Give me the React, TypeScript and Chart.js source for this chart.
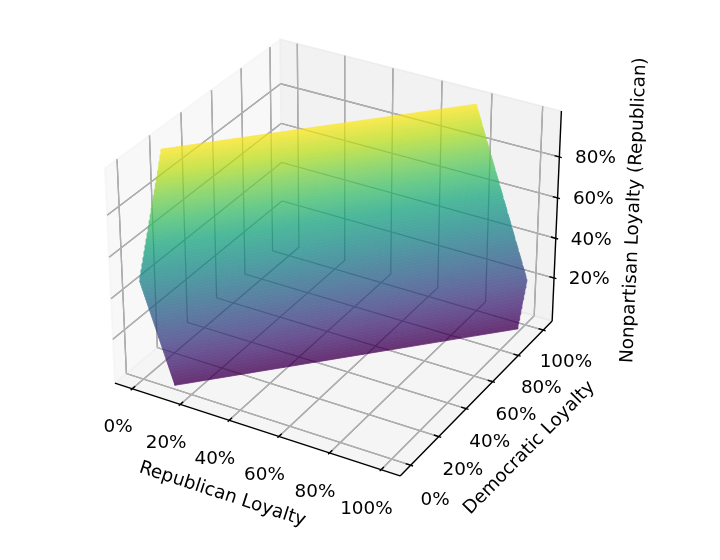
import React, { useEffect, useRef } from "react";
import { Chart, registerables } from "chart.js";

Chart.register(...registerables);

// ---------------- data ----------------
const REPUBLICAN_LOYALTY = [0, 0.2, 0.4, 0.6, 0.8, 1.0];
const DEMOCRATIC_LOYALTY = [0, 0.2, 0.4, 0.6, 0.8, 1.0];
// Required nonpartisan loyalty; rows follow DEMOCRATIC_LOYALTY, columns REPUBLICAN_LOYALTY.
// Only the feasible part (0..1) of the surface is drawn.
const NONPARTISAN_LOYALTY = [
  [0.465, -0.241, -0.947, -1.654, -2.36, -3.066],
  [1.12, 0.414, -0.292, -0.998, -1.705, -2.411],
  [1.775, 1.069, 0.363, -0.343, -1.05, -1.756],
  [2.431, 1.724, 1.018, 0.312, -0.394, -1.101],
  [3.086, 2.38, 1.673, 0.967, 0.261, -0.445],
  [3.741, 3.035, 2.329, 1.623, 0.917, 0.21],
];
const FEASIBLE_RANGE = [0, 1];

const X_TICKS = [0, 0.2, 0.4, 0.6, 0.8, 1.0];
const X_TICK_LABELS = ["0%", "20%", "40%", "60%", "80%", "100%"];
const Y_TICKS = [0, 0.2, 0.4, 0.6, 0.8, 1.0];
const Y_TICK_LABELS = ["0%", "20%", "40%", "60%", "80%", "100%"];
const Z_TICKS = [0.2, 0.4, 0.6, 0.8];
const Z_TICK_LABELS = ["20%", "40%", "60%", "80%"];
const X_TITLE = "Republican Loyalty";
const Y_TITLE = "Democratic Loyalty";
const Z_TITLE = "Nonpartisan Loyalty (Republican)";

// ---------------- view / style ----------------
const ELEV = 30;
const AZIM = -60;
const DIST = 10;
const BOX = [8 / 7, 8 / 7, 6 / 7];
const X_LIM = [-0.0729, 1.0729];
const Y_LIM = [-0.0729, 1.0729];
const Z_LIM = [-0.02, 1.02];
const VIEW_X = [-0.11797, 0.13378];
const VIEW_Y = [-0.10923, 0.08657];
const BANDS = 80;
const SURFACE_ALPHA = 0.8;
const SURFACE_BG = 245;
const GRID_GRAY = 176;
const GRID_THROUGH = 24;
const FONT = '18.4px "DejaVu Sans", sans-serif';
const VIRIDIS = [
  [68, 1, 84], [72, 36, 117], [65, 68, 135], [53, 95, 141], [42, 120, 142],
  [33, 145, 140], [34, 168, 132], [68, 191, 112], [122, 209, 81], [189, 223, 38], [253, 231, 37],
];

type P3 = [number, number, number];

const D2R = Math.PI / 180;
const W = [
  Math.cos(ELEV * D2R) * Math.cos(AZIM * D2R),
  Math.cos(ELEV * D2R) * Math.sin(AZIM * D2R),
  Math.sin(ELEV * D2R),
];
const UN = Math.hypot(W[0], W[1]);
const U = [-W[1] / UN, W[0] / UN, 0];
const V = [
  W[1] * U[2] - W[2] * U[1],
  W[2] * U[0] - W[0] * U[2],
  W[0] * U[1] - W[1] * U[0],
];
const LIMS = [X_LIM, Y_LIM, Z_LIM];

function project(p: P3) {
  const q = [0, 1, 2].map(
    (i) => ((p[i] - LIMS[i][0]) / (LIMS[i][1] - LIMS[i][0])) * BOX[i] - BOX[i] / 2
  );
  const dot = (a: number[]) => a[0] * q[0] + a[1] * q[1] + a[2] * q[2];
  const den = DIST - dot(W);
  return { x: dot(U) / den, y: dot(V) / den, den };
}

const GAP = { x: NaN, y: NaN };
function toPath(polys: P3[][], close: boolean) {
  const data: { x: number; y: number }[] = [];
  polys.forEach((poly, i) => {
    if (i > 0) data.push(GAP);
    poly.forEach((p) => {
      const r = project(p);
      data.push({ x: r.x, y: r.y });
    });
    if (close) {
      const r = project(poly[0]);
      data.push({ x: r.x, y: r.y });
    }
  });
  return data;
}

function viridis(t: number) {
  const s = Math.max(0, Math.min(1, t)) * 10;
  const i = Math.min(9, Math.floor(s));
  const f = s - i;
  return VIRIDIS[i].map((c, k) => c + f * (VIRIDIS[i + 1][k] - c));
}

function clipHalf(poly: P3[], f: (p: P3) => number): P3[] {
  const out: P3[] = [];
  for (let i = 0; i < poly.length; i++) {
    const a = poly[i];
    const b = poly[(i + 1) % poly.length];
    const fa = f(a);
    const fb = f(b);
    if (fa >= 0) out.push(a);
    if (fa >= 0 !== fb >= 0) {
      const t = fa / (fa - fb);
      out.push([a[0] + t * (b[0] - a[0]), a[1] + t * (b[1] - a[1]), a[2] + t * (b[2] - a[2])]);
    }
  }
  return out;
}

const LINE_BASE = {
  showLine: true,
  pointRadius: 0,
  pointHoverRadius: 0,
  pointHitRadius: 0,
  tension: 0,
  spanGaps: false,
  fill: false,
};

function buildDatasets() {
  const [x0, x1] = X_LIM;
  const [y0, y1] = Y_LIM;
  const [z0, z1] = Z_LIM;
  const ds: any[] = [];

  // panes
  const panes: [P3[], string][] = [
    [[[x0, y0, z0], [x0, y1, z0], [x0, y1, z1], [x0, y0, z1]], "rgba(242,242,242,0.5)"],
    [[[x0, y1, z0], [x1, y1, z0], [x1, y1, z1], [x0, y1, z1]], "rgba(230,230,230,0.5)"],
    [[[x0, y0, z0], [x1, y0, z0], [x1, y1, z0], [x0, y1, z0]], "rgba(236,236,236,0.5)"],
  ];
  panes.forEach(([poly, col]) =>
    ds.push({
      ...LINE_BASE,
      data: toPath([poly], true),
      fill: "shape",
      backgroundColor: col,
      borderColor: col,
      borderWidth: 1.8,
      borderJoinStyle: "miter",
      order: 10,
    })
  );

  // gridlines
  const grid: P3[][] = [];
  X_TICKS.forEach((x) => grid.push([[x, y0, z0], [x, y1, z0], [x, y1, z1]]));
  Y_TICKS.forEach((y) => grid.push([[x1, y, z0], [x0, y, z0], [x0, y, z1]]));
  Z_TICKS.forEach((z) => grid.push([[x0, y0, z], [x0, y1, z], [x1, y1, z]]));
  const gridData = toPath(grid, false);
  const g0 = GRID_GRAY + GRID_THROUGH;
  ds.push({
    ...LINE_BASE,
    data: gridData,
    borderColor: `rgb(${g0},${g0},${g0})`,
    borderWidth: 1.3,
    order: 9,
  });

  // surface bands
  const [zs0, zs1] = FEASIBLE_RANGE;
  for (let k = 0; k < BANDS; k++) {
    const lo = zs0 + ((zs1 - zs0) * k) / BANDS;
    const hi = zs0 + ((zs1 - zs0) * (k + 1)) / BANDS;
    const polys: P3[][] = [];
    for (let j = 0; j < DEMOCRATIC_LOYALTY.length - 1; j++) {
      for (let i = 0; i < REPUBLICAN_LOYALTY.length - 1; i++) {
        const ra = REPUBLICAN_LOYALTY[i];
        const rb = REPUBLICAN_LOYALTY[i + 1];
        const da = DEMOCRATIC_LOYALTY[j];
        const db = DEMOCRATIC_LOYALTY[j + 1];
        const quad: P3[] = [
          [ra, da, NONPARTISAN_LOYALTY[j][i]],
          [rb, da, NONPARTISAN_LOYALTY[j][i + 1]],
          [rb, db, NONPARTISAN_LOYALTY[j + 1][i + 1]],
          [ra, db, NONPARTISAN_LOYALTY[j + 1][i]],
        ];
        let c = clipHalf(quad, (p) => p[2] - lo);
        if (c.length < 3) continue;
        c = clipHalf(c, (p) => hi - p[2]);
        if (c.length < 3) continue;
        polys.push(c);
      }
    }
    if (!polys.length) continue;
    const v = viridis(((lo + hi) / 2 - zs0) / (zs1 - zs0));
    const col = v.map((c) => Math.round(SURFACE_ALPHA * c + (1 - SURFACE_ALPHA) * SURFACE_BG));
    const css = `rgb(${col[0]},${col[1]},${col[2]})`;
    ds.push({
      ...LINE_BASE,
      data: toPath(polys, true),
      fill: "shape",
      backgroundColor: css,
      borderColor: css,
      borderWidth: 0.8,
      borderJoinStyle: "round",
      order: 8,
    });
  }

  // gridlines seen through the translucent surface
  ds.push({
    ...LINE_BASE,
    data: gridData,
    borderColor: `rgb(${GRID_THROUGH},${GRID_THROUGH},${GRID_THROUGH})`,
    borderWidth: 1.3,
    blend: "difference",
    order: 7,
  });

  // axis lines
  ds.push({
    ...LINE_BASE,
    data: toPath(
      [
        [[x0, y0, z0], [x1, y0, z0]],
        [[x1, y0, z0], [x1, y1, z0]],
        [[x1, y1, z0], [x1, y1, z1]],
      ],
      false
    ),
    borderColor: "#000",
    borderWidth: 1.4,
    order: 6,
  });

  // tick marks
  const dx = (x1 - x0) / 12;
  const dy = (y1 - y0) / 12;
  const ticks: P3[][] = [];
  X_TICKS.forEach((x) => ticks.push([[x, y0 - 0.1 * dy, z0], [x, y0 + 0.2 * dy, z0]]));
  Y_TICKS.forEach((y) => ticks.push([[x1 + 0.1 * dx, y, z0], [x1 - 0.2 * dx, y, z0]]));
  Z_TICKS.forEach((z) => ticks.push([[x1 + 0.1 * dx, y1, z], [x1 - 0.2 * dx, y1, z]]));
  ds.push({
    ...LINE_BASE,
    data: toPath(ticks, false),
    borderColor: "#000",
    borderWidth: 1.4,
    order: 5,
  });
  return ds;
}

const blendPlugin = {
  id: "blendMode",
  beforeDatasetDraw(chart: any, args: any) {
    const d = chart.data.datasets[args.index];
    if (d && d.blend) {
      chart.ctx.save();
      chart.ctx.globalCompositeOperation = d.blend;
    }
  },
  afterDatasetDraw(chart: any, args: any) {
    const d = chart.data.datasets[args.index];
    if (d && d.blend) chart.ctx.restore();
  },
};

const textPlugin = {
  id: "axisText",
  afterDatasetsDraw(chart: any) {
    const ctx = chart.ctx;
    const sx = chart.scales.x;
    const sy = chart.scales.y;
    const pix = (p: P3) => {
      const r = project(p);
      return { x: sx.getPixelForValue(r.x), y: sy.getPixelForValue(r.y), k: DIST / r.den };
    };
    const [x0, x1] = X_LIM;
    const [y0, y1] = Y_LIM;
    const [z0, z1] = Z_LIM;
    ctx.save();
    ctx.fillStyle = "#000";
    ctx.font = FONT;
    ctx.textAlign = "center";
    ctx.textBaseline = "middle";
    const put = (p: P3, off: number[], text: string) => {
      const q = pix(p);
      ctx.fillText(text, q.x + off[0] * q.k, q.y + off[1] * q.k);
    };
    X_TICKS.forEach((x, i) => put([x, y0, z0], [-14, 38], X_TICK_LABELS[i]));
    Y_TICKS.forEach((y, i) => put([x1, y, z0], [23.5, 33.3], Y_TICK_LABELS[i]));
    Z_TICKS.forEach((z, i) => put([x1, y1, z], [36.3, 1.5], Z_TICK_LABELS[i]));

    const title = (a: P3, b: P3, mid: P3, off: number[], text: string) => {
      const pa = pix(a);
      const pb = pix(b);
      let ang = Math.atan2(pb.y - pa.y, pb.x - pa.x);
      if (ang > Math.PI / 2) ang -= Math.PI;
      if (ang < -Math.PI / 2) ang += Math.PI;
      const m = pix(mid);
      ctx.save();
      ctx.translate(m.x + off[0], m.y + off[1]);
      ctx.rotate(ang);
      ctx.fillText(text, 0, 0);
      ctx.restore();
    };
    title([x0, y0, z0], [x1, y0, z0], [(x0 + x1) / 2, y0, z0], [-31.5, 66], X_TITLE);
    title([x1, y0, z0], [x1, y1, z0], [x1, (y0 + y1) / 2, z0], [50, 53], Y_TITLE);
    title([x1, y1, z0], [x1, y1, z1], [x1, y1, (z0 + z1) / 2], [77.5, -8], Z_TITLE);
    ctx.restore();
  },
};

export default function App() {
  const ref = useRef<HTMLCanvasElement>(null);
  useEffect(() => {
    const canvas = ref.current;
    if (!canvas) return;
    const chart = new Chart(canvas, {
      type: "scatter",
      data: { datasets: buildDatasets() },
      options: {
        animation: false,
        responsive: false,
        events: [],
        layout: { padding: 0 },
        scales: {
          x: { type: "linear", display: false, min: VIEW_X[0], max: VIEW_X[1] },
          y: { type: "linear", display: false, min: VIEW_Y[0], max: VIEW_Y[1] },
        },
        plugins: {
          legend: { display: false },
          tooltip: { enabled: false },
          colors: { enabled: false },
        },
      } as any,
      plugins: [blendPlugin, textPlugin],
    });
    return () => chart.destroy();
  }, []);
  return (
    <div style={{ position: "absolute", left: 0, top: 0, width: 720, height: 560, background: "#fff" }}>
      <canvas ref={ref} width={720} height={560} style={{ display: "block", width: 720, height: 560 }} />
    </div>
  );
}
